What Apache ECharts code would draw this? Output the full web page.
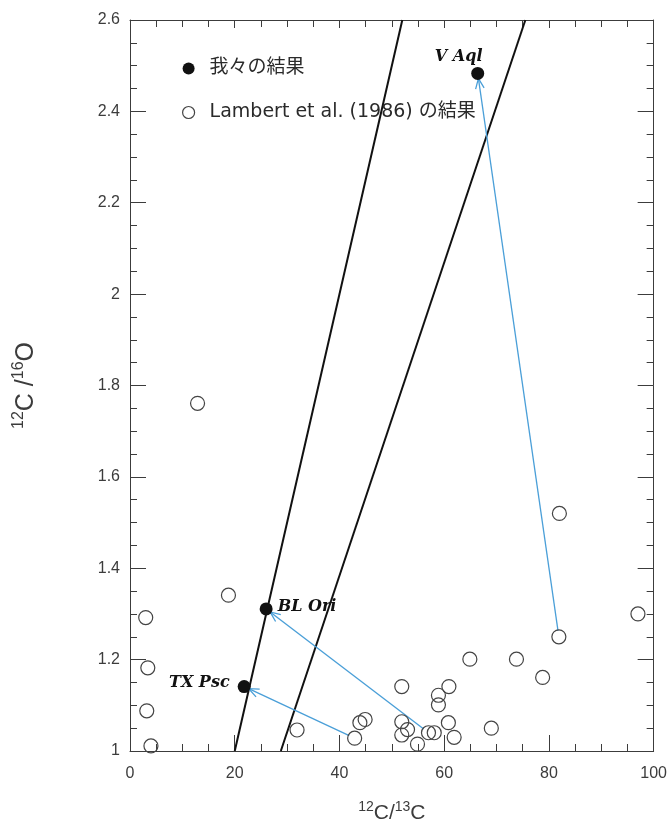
<!DOCTYPE html>
<html>
<head>
<meta charset="utf-8">
<title>12C/13C vs 12C/16O</title>
<script src="https://cdn.jsdelivr.net/npm/echarts@6/dist/echarts.min.js"></script>
<style>
  html, body { margin: 0; padding: 0; background: #ffffff; }
  #chart { width: 670px; height: 829px; }
</style>
</head>
<body>
<div id="chart"></div>
<script>
// Our measurements (filled dots)
const starNames = ['V Aql', 'BL Ori', 'TX Psc'];
const starC12C13 = [66.4, 26.0, 21.8];
const starC12O16 = [2.483, 1.311, 1.141];

// Lambert et al. (1986) values (open circles)
const lambertC12C13 = [3.0, 3.4, 3.2, 4.0, 12.9, 18.8, 31.9, 42.9, 43.9, 44.9,
  51.9, 51.9, 51.9, 53.0, 54.9, 57.0, 58.1, 58.9, 58.9, 60.9,
  60.8, 61.9, 64.9, 69.0, 73.8, 78.8, 81.9, 82.0, 97.0];
const lambertC12O16 = [1.292, 1.182, 1.088, 1.011, 1.761, 1.341, 1.046, 1.028, 1.062, 1.069,
  1.141, 1.064, 1.035, 1.047, 1.015, 1.040, 1.040, 1.122, 1.101, 1.141,
  1.062, 1.030, 1.201, 1.050, 1.201, 1.161, 1.250, 1.520, 1.300];

// Arrows: from the Lambert value of each star to our value (same order as starNames)
const arrowFromC12C13 = [81.9, 57.0, 42.9];
const arrowFromC12O16 = [1.250, 1.040, 1.028];

// Reference relations (end points)
const lineLowC12C13 = [20.0, 52.0];
const lineLowC12O16 = [1.0, 2.6];
const lineHighC12C13 = [28.8, 75.5];
const lineHighC12O16 = [1.0, 2.6];

// Axis ranges and tick steps
const xRange = [0, 100];
const xStep = 20;
const yRange = [1, 2.6];
const yStep = 0.2;

const starLabelStyle = {
  'V Aql': { position: 'top', offset: [-19, 2] },
  'BL Ori': { position: 'right', offset: [1, -2] },
  'TX Psc': { position: 'left', offset: [-4, -4] }
};

const axisColor = '#3c3c3c';
const sansFont = '"Liberation Sans", Arial, "Noto Sans CJK JP", sans-serif';
const legendFont = '"DejaVu Sans", "Liberation Sans", "Noto Sans CJK JP", sans-serif';
const serifFont = '"DejaVu Serif", "Liberation Serif", serif';
const arrowColor = '#4a9fd8';

const pair = (xs, ys) => xs.map((x, i) => [x, ys[i]]);

const starData = starNames.map((name, i) => {
  const s = starLabelStyle[name];
  return {
    name: name,
    value: [starC12C13[i], starC12O16[i]],
    label: {
      show: true,
      formatter: name,
      position: s.position,
      offset: s.offset,
      distance: 4,
      fontFamily: serifFont,
      fontStyle: 'italic',
      fontWeight: 'bold',
      fontSize: 16,
      color: '#111111'
    }
  };
});

const arrowData = arrowFromC12C13.map((x, i) => [x, arrowFromC12O16[i], starC12C13[i], starC12O16[i]]);

function renderArrow(params, api) {
  const p0 = api.coord([api.value(0), api.value(1)]);
  const p1 = api.coord([api.value(2), api.value(3)]);
  const dx = p1[0] - p0[0], dy = p1[1] - p0[1];
  const len = Math.sqrt(dx * dx + dy * dy);
  const ux = dx / len, uy = dy / len;
  const s = [p0[0] + ux * 6, p0[1] + uy * 6];
  const e = [p1[0] - ux * 5, p1[1] - uy * 5];
  const head = 11, ang = 0.4;
  const cos = Math.cos(ang), sin = Math.sin(ang);
  const bx = -ux, by = -uy;
  const h1 = [e[0] + head * (bx * cos - by * sin), e[1] + head * (bx * sin + by * cos)];
  const h2 = [e[0] + head * (bx * cos + by * sin), e[1] + head * (-bx * sin + by * cos)];
  const style = { stroke: arrowColor, lineWidth: 1.3, fill: null };
  return {
    type: 'group',
    children: [
      { type: 'line', shape: { x1: s[0], y1: s[1], x2: e[0], y2: e[1] }, style: style },
      { type: 'polyline', shape: { points: [h1, e, h2] }, style: style }
    ]
  };
}

const baseAxis = {
  axisLine: { show: true, onZero: false, lineStyle: { color: axisColor, width: 1 } },
  axisTick: { show: true, inside: true, length: 16, lineStyle: { color: axisColor, width: 1 } },
  minorTick: { show: true, splitNumber: 4, length: 7, lineStyle: { color: axisColor, width: 1 } },
  splitLine: { show: false },
  minorSplitLine: { show: false }
};

function titleRich(mainSize, supSize) {
  return {
    s: { fontSize: supSize, verticalAlign: 'top', lineHeight: supSize, fontFamily: sansFont, color: axisColor },
    m: { fontSize: mainSize, lineHeight: mainSize + 6, fontFamily: sansFont, color: axisColor }
  };
}

const chart = echarts.init(document.getElementById('chart'), null, { renderer: 'canvas' });

chart.setOption({
  backgroundColor: '#ffffff',
  animation: false,
  grid: { left: 130, right: 15, top: 20, bottom: 78 },
  legend: {
    orient: 'vertical',
    left: 177,
    top: 54,
    itemGap: 25,
    itemWidth: 12,
    itemHeight: 12,
    selectedMode: false,
    formatter: name => '{g|}' + name,
    textStyle: {
      fontFamily: legendFont,
      fontSize: 19,
      color: '#2a2a2a',
      rich: { g: { width: 10 } }
    },
    data: [
      { name: '我々の結果', icon: 'circle', itemStyle: { color: '#111111', borderWidth: 0, opacity: 1 } },
      { name: 'Lambert et al. (1986) の結果', icon: 'circle',
        itemStyle: { color: '#ffffff', borderColor: '#444444', borderWidth: 1.2, opacity: 1 } }
    ]
  },
  xAxis: [
    Object.assign({}, baseAxis, {
      type: 'value', position: 'bottom',
      min: xRange[0], max: xRange[1], interval: xStep,
      axisLabel: { margin: 15, fontFamily: sansFont, fontSize: 16, color: axisColor },
      name: '{s|12}{m|C/}{s|13}{m|C}',
      nameLocation: 'middle',
      nameGap: 49,
      nameTextStyle: { fontFamily: sansFont, color: axisColor, rich: titleRich(21, 14) }
    }),
    Object.assign({}, baseAxis, {
      type: 'value', position: 'top',
      min: xRange[0], max: xRange[1], interval: xStep,
      axisTick: { show: true, inside: true, length: 8, lineStyle: { color: axisColor, width: 1 } },
      axisLabel: { show: false }
    })
  ],
  yAxis: [
    Object.assign({}, baseAxis, {
      type: 'value', position: 'left',
      min: yRange[0], max: yRange[1], interval: yStep,
      axisLabel: { margin: 10, fontFamily: sansFont, fontSize: 16, color: axisColor },
      name: '{s|12}{m|C /}{s|16}{m|O}',
      nameLocation: 'middle',
      nameRotate: 90,
      nameGap: 88,
      nameTextStyle: { fontFamily: sansFont, color: axisColor, rich: titleRich(25, 16) }
    }),
    Object.assign({}, baseAxis, {
      type: 'value', position: 'right',
      min: yRange[0], max: yRange[1], interval: yStep,
      axisLabel: { show: false }
    })
  ],
  series: [
    {
      name: 'low-ratio-line',
      type: 'line',
      data: pair(lineLowC12C13, lineLowC12O16),
      symbol: 'none',
      lineStyle: { color: '#111111', width: 2 },
      silent: true,
      z: 2
    },
    {
      name: 'high-ratio-line',
      type: 'line',
      data: pair(lineHighC12C13, lineHighC12O16),
      symbol: 'none',
      lineStyle: { color: '#111111', width: 2 },
      silent: true,
      z: 2
    },
    {
      name: 'arrows',
      type: 'custom',
      renderItem: renderArrow,
      data: arrowData,
      encode: { x: [0, 2], y: [1, 3] },
      silent: true,
      z: 3
    },
    {
      name: 'Lambert et al. (1986) の結果',
      type: 'scatter',
      data: pair(lambertC12C13, lambertC12O16),
      symbol: 'circle',
      symbolSize: 14,
      itemStyle: { color: 'rgba(255,255,255,0)', borderColor: '#444444', borderWidth: 1.2, opacity: 1 },
      z: 4
    },
    {
      name: '我々の結果',
      type: 'scatter',
      data: starData,
      symbol: 'circle',
      symbolSize: 13,
      itemStyle: { color: '#111111', opacity: 1 },
      z: 5
    }
  ]
});
</script>
</body>
</html>
